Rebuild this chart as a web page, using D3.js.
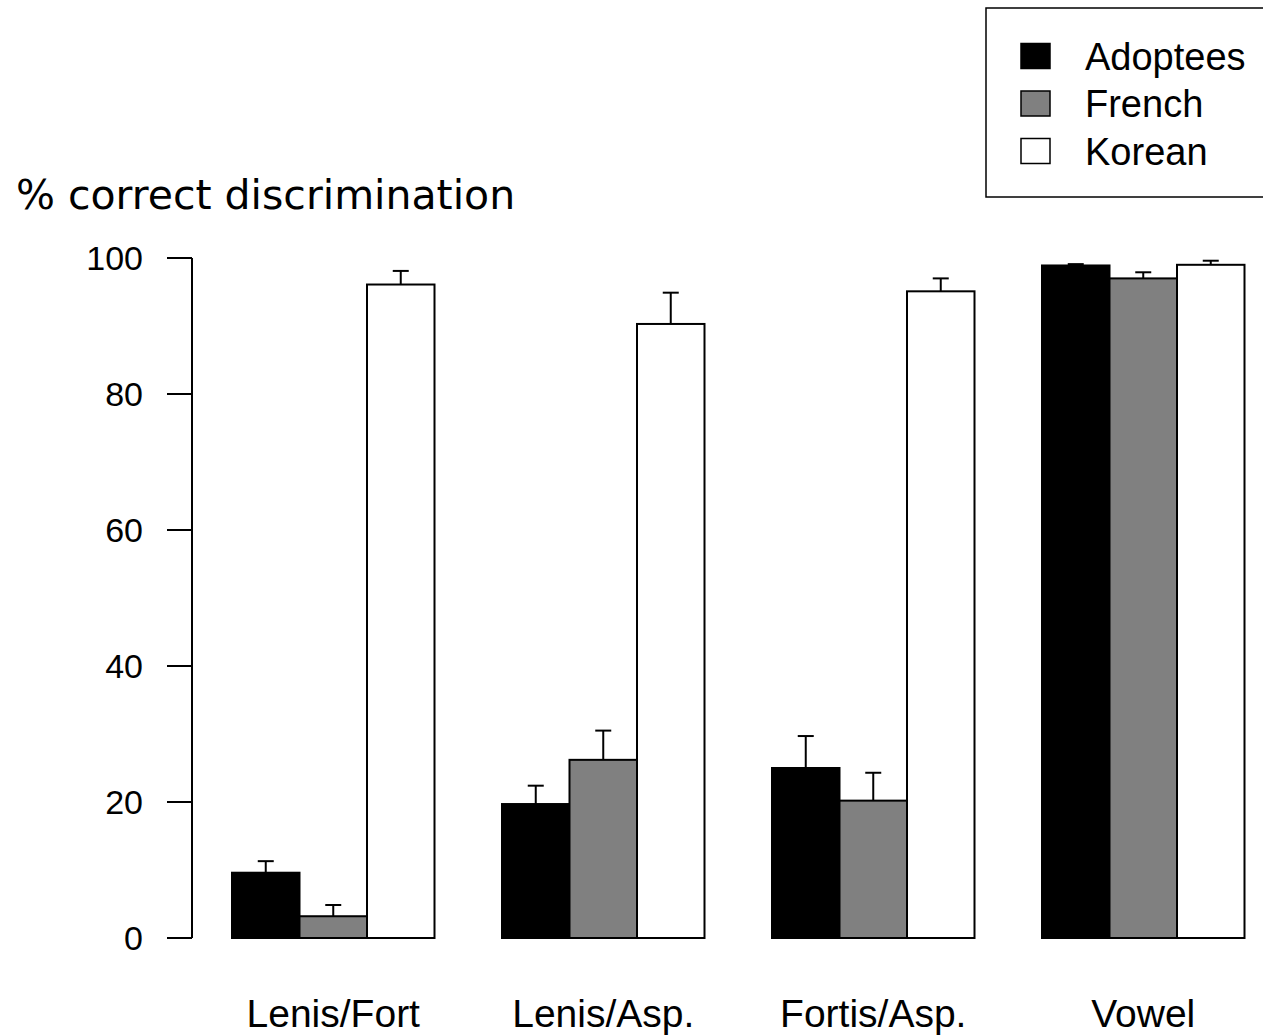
<!DOCTYPE html>
<meta charset="utf-8" />
<style>
  body { margin: 0; background: #fff; }
  svg { display: block; }
  .tick-label, .cat-label, .legend text { font-family: "Liberation Sans", Arial, sans-serif; fill: #000; }
  .title { font-family: "DejaVu Sans", sans-serif; font-size: 41px; fill: #000; }
</style>
<body>
<script src="https://d3js.org/d3.v7.min.js"></script>
<script>
  // data
  var categories = ['Lenis/Fort', 'Lenis/Asp.', 'Fortis/Asp.', 'Vowel'];
  var groups = ['Adoptees', 'French', 'Korean'];
  var adoptees = [9.6, 19.7, 25.0, 98.9];
  var adopteesErr = [1.7, 2.7, 4.7, 0.2];
  var french = [3.2, 26.2, 20.2, 97.0];
  var frenchErr = [1.65, 4.3, 4.1, 0.9];
  var korean = [96.1, 90.3, 95.1, 99.0];
  var koreanErr = [2.0, 4.6, 1.9, 0.6];
  var yTicks = [0, 20, 40, 60, 80, 100];
  var colors = ['#000000', '#808080', '#ffffff'];

  var width = 1263, height = 1035;

  var svg = d3.select('body').append('svg')
    .attr('width', width)
    .attr('height', height);

  // build rows from the arrays
  var means = [adoptees, french, korean];
  var errs = [adopteesErr, frenchErr, koreanErr];
  var rows = [];
  categories.forEach(function (c, i) {
    groups.forEach(function (g, j) {
      rows.push({ cat: c, group: g, value: means[j][i], err: errs[j][i], color: colors[j] });
    });
  });

  var y = d3.scaleLinear().domain([0, 100]).range([938, 258]);

  var x0 = d3.scaleBand()
    .domain(categories)
    .range([164.5, 1312])
    .paddingInner(0.25)
    .paddingOuter(0.25);

  var x1 = d3.scaleBand()
    .domain(groups)
    .range([0, x0.bandwidth()]);

  // y axis
  var axisX = 192;
  var yAxis = svg.append('g');
  yAxis.append('line')
    .attr('x1', axisX).attr('x2', axisX)
    .attr('y1', y(0)).attr('y2', y(100))
    .attr('stroke', '#000').attr('stroke-width', 2);
  yAxis.selectAll('.tick')
    .data(yTicks)
    .enter()
    .append('line')
    .attr('x1', axisX - 25).attr('x2', axisX)
    .attr('y1', function (d) { return y(d); })
    .attr('y2', function (d) { return y(d); })
    .attr('stroke', '#000').attr('stroke-width', 2);
  yAxis.selectAll('.tick-label')
    .data(yTicks)
    .enter()
    .append('text')
    .attr('class', 'tick-label')
    .attr('x', 143)
    .attr('y', function (d) { return y(d); })
    .attr('dy', '0.36em')
    .attr('text-anchor', 'end')
    .style('font-size', '34px')
    .text(function (d) { return d; });

  // bars
  svg.selectAll('.bar')
    .data(rows)
    .enter()
    .append('rect')
    .attr('class', 'bar')
    .attr('x', function (d) { return x0(d.cat) + x1(d.group); })
    .attr('y', function (d) { return y(d.value); })
    .attr('width', x1.bandwidth())
    .attr('height', function (d) { return y(0) - y(d.value); })
    .attr('fill', function (d) { return d.color; })
    .attr('stroke', '#000')
    .attr('stroke-width', 2);

  // error bars (upper only)
  var eb = svg.selectAll('.err')
    .data(rows)
    .enter()
    .append('g')
    .attr('class', 'err')
    .attr('stroke', '#000')
    .attr('stroke-width', 2);
  eb.append('line')
    .attr('x1', function (d) { return x0(d.cat) + x1(d.group) + x1.bandwidth() / 2; })
    .attr('x2', function (d) { return x0(d.cat) + x1(d.group) + x1.bandwidth() / 2; })
    .attr('y1', function (d) { return y(d.value); })
    .attr('y2', function (d) { return y(d.value + d.err); });
  eb.append('line')
    .attr('x1', function (d) { return x0(d.cat) + x1(d.group) + x1.bandwidth() / 2 - 8; })
    .attr('x2', function (d) { return x0(d.cat) + x1(d.group) + x1.bandwidth() / 2 + 8; })
    .attr('y1', function (d) { return y(d.value + d.err); })
    .attr('y2', function (d) { return y(d.value + d.err); });

  // category labels
  svg.selectAll('.cat-label')
    .data(categories)
    .enter()
    .append('text')
    .attr('class', 'cat-label')
    .attr('x', function (d) { return x0(d) + x0.bandwidth() / 2; })
    .attr('y', 1027)
    .attr('text-anchor', 'middle')
    .style('font-size', '39px')
    .text(function (d) { return d; });

  // title
  svg.append('text')
    .attr('class', 'title')
    .attr('x', 16)
    .attr('y', 209)
    .text('% correct discrimination');

  // legend
  var legend = svg.append('g').attr('class', 'legend');
  legend.append('rect')
    .attr('x', 986).attr('y', 8)
    .attr('width', 300).attr('height', 189)
    .attr('fill', '#fff')
    .attr('stroke', '#000').attr('stroke-width', 1.5);
  var item = legend.selectAll('.item')
    .data(groups)
    .enter()
    .append('g')
    .attr('class', 'item')
    .attr('transform', function (d, i) { return 'translate(0,' + (56 + i * 47.5) + ')'; });
  item.append('rect')
    .attr('x', 1021).attr('y', -12.5)
    .attr('width', 29).attr('height', 25)
    .attr('fill', function (d, i) { return colors[i]; })
    .attr('stroke', '#000').attr('stroke-width', 1.5);
  item.append('text')
    .attr('x', 1085)
    .attr('dy', '0.36em')
    .style('font-size', '38px')
    .text(function (d) { return d; });
</script>
</body>
